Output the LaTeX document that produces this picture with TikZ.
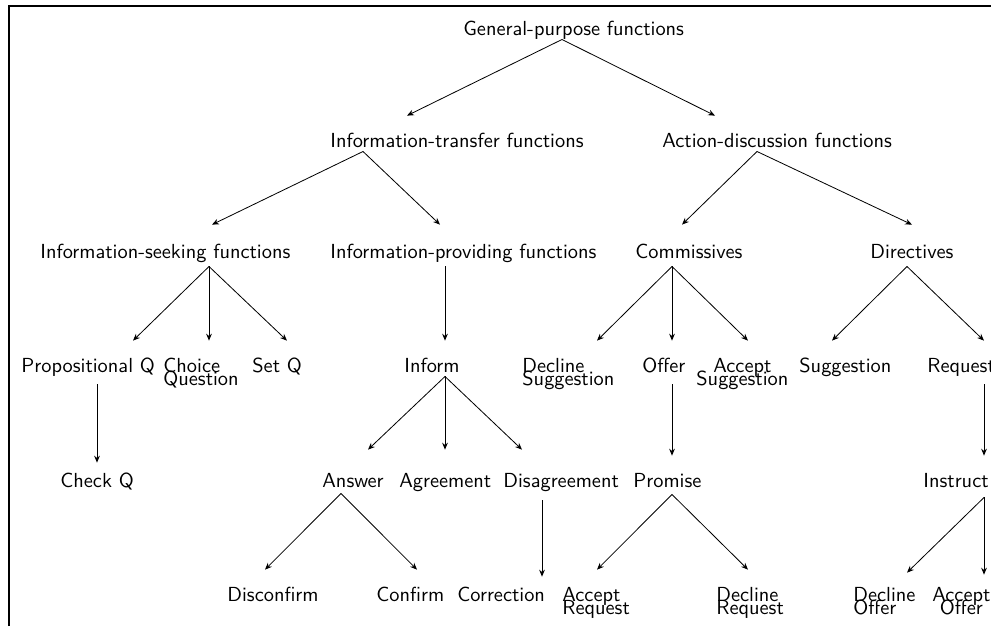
\documentclass[tikz,border=0pt]{standalone}
\usetikzlibrary{arrows.meta}

\begin{document}
\begin{tikzpicture}[x=0.491pt,y=-0.491pt,
	lbl/.style={font=\sffamily,anchor=base west,inner sep=0pt,text height=15.2pt,text depth=2pt},
	arr/.style={-{Stealth[length=3.4pt,width=2.8pt]},line width=0.4pt}]

\useasboundingbox (0,0) rectangle (991,626);
\def\twol#1#2{\vtop{\baselineskip=6.6pt\lineskiplimit=-10pt\halign{##\hfil\cr#1\cr#2\cr}}}
\def\twoc#1#2{\vtop{\baselineskip=6.6pt\lineskiplimit=-10pt\halign{\hfil##\hfil\cr#1\cr#2\cr}}}

\draw[line width=1.2pt] (9,626) -- (9,6) -- (991,6);

\foreach \n/\x/\y/\t in {
	gp/463/35/General-purpose functions,
	itf/330/147/Information-transfer functions,
	adf/662/147/Action-discussion functions,
	isf/40/258/Information-seeking functions,
	ipf/330/258/Information-providing functions,
	com/635/258/Commissives,
	dir/870/258/Directives,
	pq/21/372/Propositional Q,
	cq/163/372/\twol{Choice}{Question},
	sq/252/372/Set Q,
	inf/404/372/Inform,
	dsg/522/372/\twol{Decline}{Suggestion},
	off/642/372/Offer,
	asg/696/372/\twoc{Accept}{Suggestion},
	sug/799/372/Suggestion,
	req/927/372/Request,
	chq/60/487/Check Q,
	ans/322/487/Answer,
	agr/399/487/Agreement,
	dis/503/487/Disagreement,
	pro/633/487/Promise,
	ins/923/487/Instruct,
	dcf/227/601/Disconfirm,
	cnf/376/601/Confirm,
	cor/457/601/Correction,
	arq/562/601/\twol{Accept}{Request},
	drq/716/601/\twol{Decline}{Request},
	dof/853/601/\twol{Decline}{Offer},
	aof/932/601/\twoc{Accept}{Offer}}{
	\node[lbl] (\n) at (\x,\y) {\t};
}

\foreach \a/\ax/\ay/\b/\bx/\by in {
	gp/99/0/itf/77/0, gp/99/0/adf/53/0,
	itf/33/0/isf/172/-2, itf/33/0/ipf/110/-2,
	adf/95/0/com/47/-2, adf/95/0/dir/42/-2,
	isf/169/4/pq/112/0, isf/169/4/cq/46/0, isf/169/4/sq/35/0,
	ipf/115/4/inf/41/0,
	com/37/4/dsg/75/0, com/37/4/off/30/0, com/37/4/asg/52/0,
	dir/37/4/sug/33/0, dir/37/4/req/57/0,
	pq/76/8/chq/37/7,
	inf/41/0/ans/46/-6, inf/41/0/agr/46/-6, inf/41/0/dis/19/-6,
	off/30/8/pro/39/0,
	req/57/8/ins/61/0,
	ans/19/2/dcf/38/0, ans/19/2/cnf/41/0,
	dis/39/9/cor/85/7,
	pro/39/3/arq/35/0, pro/39/3/drq/32/0,
	ins/61/6/dof/54/3, ins/61/6/aof/52/5}{
	\draw[arr] ([shift={(\ax,\ay)}]\a.south west) -- ([shift={(\bx,\by)}]\b.north west);
}

\end{tikzpicture}
\end{document}
